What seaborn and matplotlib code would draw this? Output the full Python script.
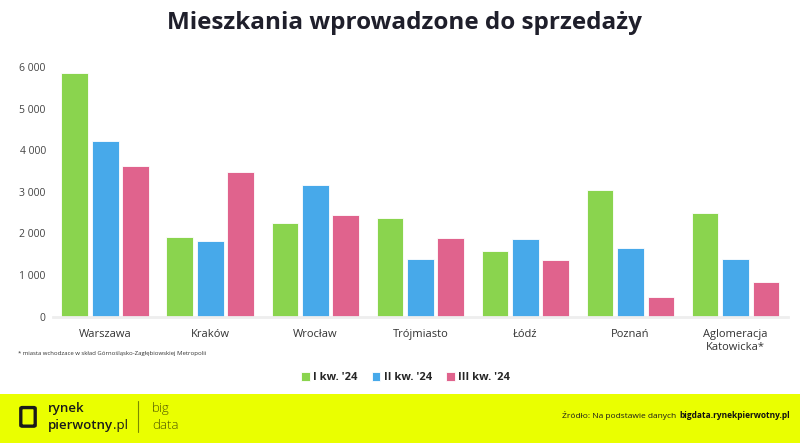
import pandas as pd
import matplotlib.pyplot as plt
import matplotlib.patches as mpatches
from matplotlib.ticker import FuncFormatter
import seaborn as sns


cities = ['Warszawa', 'Kraków', 'Wrocław', 'Trójmiasto', 'Łódź', 'Poznań',
          'Aglomeracja\nKatowicka*']
quarters = ["I kw. '24", "II kw. '24", "III kw. '24"]
q1 = [5860, 1910, 2255, 2375, 1590, 3055, 2495]
q2 = [4210, 1830, 3175, 1395, 1860, 1645, 1380]
q3 = [3620, 3475, 2440, 1895, 1370, 465, 825]
y_ticks = [0, 1000, 2000, 3000, 4000, 5000, 6000]

colors = ['#8AD44E', '#47A9EA', '#E0638D']

df = pd.DataFrame({
    'miasto': cities * 3,
    'kwartal': [quarters[0]] * 7 + [quarters[1]] * 7 + [quarters[2]] * 7,
    'liczba': q1 + q2 + q3,
})

sns.set_style('white')
plt.rcParams['font.family'] = ['Open Sans', 'DejaVu Sans']

fig = plt.figure(figsize=(8, 4.43), dpi=100)
ax = fig.add_axes([0.066, 0.285, 0.919, 0.564])

sns.barplot(data=df, x='miasto', y='liczba', hue='kwartal', palette=colors,
            width=0.87, gap=0.12, ax=ax, legend=True, saturation=1,
            edgecolor='#ffffff', linewidth=0.6)

ax.set_ylim(0, 6000)
ax.set_xlim(-0.5, 6.5)
ax.set_yticks(y_ticks)
ax.yaxis.set_major_formatter(FuncFormatter(lambda v, p: f'{int(v):,}'.replace(',', ' ')))
ax.tick_params(axis='y', labelsize=7.5, colors='#444444', length=0, pad=5)
ax.tick_params(axis='x', labelsize=8, colors='#333333', length=0, pad=9)
ax.set_xlabel('')
ax.set_ylabel('')
for s in ['top', 'right', 'left']:
    ax.spines[s].set_visible(False)
ax.spines['bottom'].set_color('#eeeeee')
ax.spines['bottom'].set_linewidth(2)

handles, labels = ax.get_legend_handles_labels()
ax.get_legend().remove()
fig.legend(handles, labels, loc='center', bbox_to_anchor=(0.507, 0.147), ncol=3,
           frameon=False, handlelength=0.75, handleheight=0.75, handletextpad=0.3,
           columnspacing=1.3, prop={'weight': 'bold', 'size': 8})

fig.text(0.506, 0.948, 'Mieszkania wprowadzone do sprzedaży', ha='center', va='center',
         fontsize=17.5, fontweight='bold', color='#1f1f2b')
fig.text(0.022, 0.203, '* miasta wchodzace w skład Górnośląsko-Zagłębiowskiej Metropolii',
         fontsize=4.3, color='#333333', va='center')

# footer
fig.patches.append(mpatches.Rectangle((0, 0), 1, 49 / 443, transform=fig.transFigure,
                                      facecolor='#EAFF00', edgecolor='none', zorder=0))
fig.patches.append(mpatches.FancyBboxPatch((0.028, 0.04), 0.014, 0.038,
                                           boxstyle='round,pad=0.002', transform=fig.transFigure,
                                           facecolor='none', edgecolor='#1a1a1a', linewidth=2.4))
fig.text(0.06, 0.078, 'rynek', fontsize=9.5, color='#1a1a1a', va='center', fontweight='semibold')
pw = fig.text(0.06, 0.04, 'pierwotny', fontsize=9.5, color='#1a1a1a', va='center',
              fontweight='semibold')
fig.canvas.draw()
pw_end = pw.get_window_extent().x1 / fig.bbox.width
fig.text(pw_end, 0.04, '.pl', fontsize=9.5, color='#1a1a1a', va='center')
fig.add_artist(plt.Line2D([0.172, 0.172], [0.025, 0.095], transform=fig.transFigure,
                          color='#7a8a00', linewidth=0.8))
fig.text(0.19, 0.078, 'big', fontsize=9.5, color='#4f5600', va='center', fontweight='light')
fig.text(0.19, 0.04, 'data', fontsize=9.5, color='#4f5600', va='center', fontweight='light')
src = fig.text(0.987, 0.063, 'bigdata.rynekpierwotny.pl', fontsize=6, color='#111111',
               ha='right', va='center', fontweight='bold')
fig.canvas.draw()
bb = src.get_window_extent()
fig.text(bb.x0 / fig.bbox.width - 0.003, 0.063, 'Źródło: Na podstawie danych', fontsize=6,
         color='#1a1a1a', ha='right', va='center')

fig.savefig('out.png', dpi=100)
